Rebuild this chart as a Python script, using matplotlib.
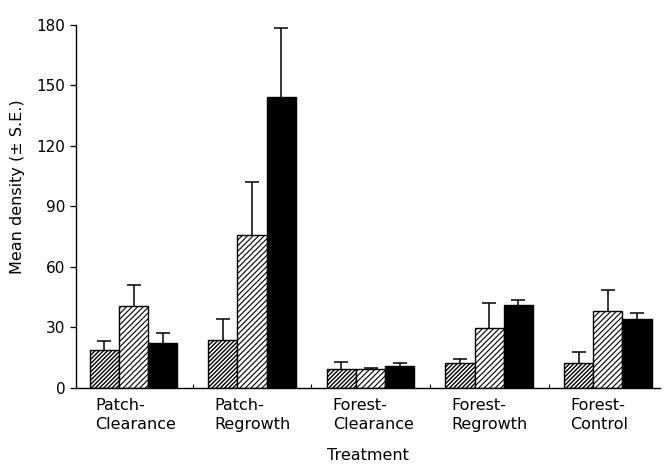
import matplotlib

matplotlib.use("Agg")

import matplotlib.pyplot as plt
import numpy as np


TREATMENTS = [
    "Patch-\nClearance",
    "Patch-\nRegrowth",
    "Forest-\nClearance",
    "Forest-\nRegrowth",
    "Forest-\nControl",
]

# three sampling series per treatment: mean density and standard error
SERIES_A_MEAN = [18.8, 23.5, 9.3, 12.0, 12.0]
SERIES_A_SE = [4.5, 10.5, 3.3, 2.0, 5.5]

SERIES_B_MEAN = [40.4, 75.6, 9.0, 29.3, 37.9]
SERIES_B_SE = [10.2, 26.3, 0.8, 12.4, 10.4]

SERIES_C_MEAN = [22.1, 143.9, 10.7, 40.9, 33.8]
SERIES_C_SE = [4.9, 34.3, 1.4, 2.5, 3.1]

Y_TICKS = [0, 30, 60, 90, 120, 150, 180]

BAR_WIDTH = 0.246

plt.rcParams["hatch.color"] = "black"
plt.rcParams["font.family"] = "DejaVu Sans"

fig = plt.figure(figsize=(6.66, 4.67), dpi=100)
ax = fig.add_axes([0.1141, 0.1702, 0.8769, 0.7773])

x = np.arange(len(TREATMENTS))

series = [
    (SERIES_A_MEAN, SERIES_A_SE, "white", "////////", 1.0),
    (SERIES_B_MEAN, SERIES_B_SE, "white", "//////", 0.8),
    (SERIES_C_MEAN, SERIES_C_SE, "black", None, 0.8),
]

for i, (means, errors, face, hatch, hatch_lw) in enumerate(series):
    offset = (i - 1) * BAR_WIDTH
    plt.rcParams["hatch.linewidth"] = hatch_lw
    # error bars sit behind the opaque bars, so only the upper half shows
    ax.errorbar(
        x + offset,
        means,
        yerr=errors,
        fmt="none",
        ecolor="black",
        elinewidth=1.1,
        capsize=5,
        capthick=1.1,
        zorder=1,
    )
    ax.bar(
        x + offset,
        means,
        width=BAR_WIDTH,
        color=face,
        edgecolor="black",
        linewidth=1.0,
        hatch=hatch,
        zorder=2,
    )

ax.set_xlim(-0.485, 4.44)
ax.set_ylim(0, 180)
ax.set_yticks(Y_TICKS)
ax.tick_params(axis="y", direction="out", length=4.5, width=0.9, pad=3, labelsize=11)

# small marks on the baseline between treatment groups
ax.set_xticks(x[:-1] + 0.5)
ax.set_xticklabels([])
ax.tick_params(axis="x", direction="in", length=3, width=0.8)

for xi, label in zip(x, TREATMENTS):
    ax.text(
        xi - 0.32,
        -5,
        label,
        ha="left",
        va="top",
        fontsize=11.5,
        linespacing=1.35,
    )

ax.spines["top"].set_visible(False)
ax.spines["right"].set_visible(False)
ax.spines["left"].set_linewidth(1.0)
ax.spines["bottom"].set_linewidth(1.0)

fig.text(0.5526, 0.025, "Treatment", ha="center", va="center", fontsize=11.5)
fig.text(0.026, 0.60, "Mean density (± S.E.)", rotation=90,
         ha="center", va="center", fontsize=11.5)

fig.savefig("out.png", dpi=100)
